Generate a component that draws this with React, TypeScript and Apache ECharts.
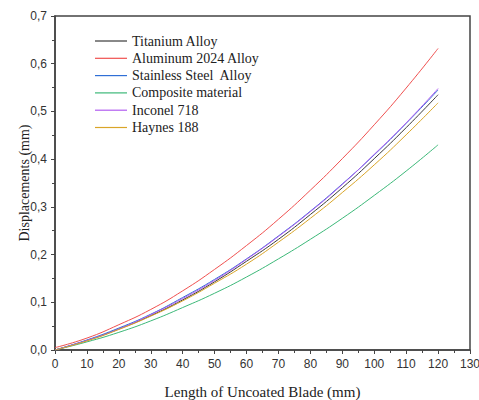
import React, { useEffect, useRef } from "react";
import * as echarts from "echarts";

const xValues = [0, 10, 20, 30, 40, 50, 60, 70, 80, 90, 100, 110, 120];

const titanium = [0, 0.020, 0.044, 0.072, 0.105, 0.143, 0.186, 0.232, 0.284, 0.340, 0.401, 0.466, 0.535];
const aluminum = [0.005, 0.025, 0.053, 0.085, 0.124, 0.169, 0.219, 0.274, 0.335, 0.401, 0.472, 0.549, 0.632];
const stainless = [0, 0.021, 0.046, 0.075, 0.110, 0.148, 0.191, 0.239, 0.291, 0.348, 0.409, 0.475, 0.545];
const composite = [0, 0.017, 0.037, 0.061, 0.089, 0.119, 0.153, 0.191, 0.232, 0.276, 0.324, 0.375, 0.430];
const inconel = [0, 0.020, 0.044, 0.074, 0.108, 0.146, 0.190, 0.238, 0.290, 0.347, 0.410, 0.476, 0.548];
const haynes = [0, 0.019, 0.043, 0.071, 0.103, 0.140, 0.180, 0.226, 0.276, 0.330, 0.388, 0.451, 0.518];

const seriesNames = [
  "Titanium Alloy",
  "Aluminum 2024 Alloy",
  "Stainless Steel  Alloy",
  "Composite material",
  "Inconel 718",
  "Haynes 188",
];
const seriesData = [titanium, aluminum, stainless, composite, inconel, haynes];
const seriesColors = ["#3a3a3a", "#f0504f", "#2f6fd6", "#3cb878", "#b15cf0", "#d9a528"];

export default function App() {
  const ref = useRef<HTMLDivElement>(null);
  useEffect(() => {
    if (!ref.current) return;
    const chart = echarts.init(ref.current, undefined, { renderer: "svg" });
    const axisColor = "#444";
    chart.setOption({
      animation: false,
      backgroundColor: "#fff",
      grid: {
        left: 55,
        right: 9,
        top: 16,
        bottom: 50,
        outerBoundsMode: "none",
        containLabel: false,
        show: true,
        borderColor: axisColor,
        borderWidth: 1.5,
        backgroundColor: "transparent",
      },
      legend: {
        orient: "vertical",
        left: 90,
        top: 29,
        icon: "rect",
        itemWidth: 32,
        itemHeight: 1.2,
        itemGap: 3.3,
        data: seriesNames,
        textStyle: { fontFamily: "Liberation Serif", fontSize: 14, color: "#222" },
      },
      xAxis: {
        type: "value",
        min: 0,
        max: 130,
        interval: 10,
        name: "Length of Uncoated Blade (mm)",
        nameLocation: "middle",
        nameGap: 34,
        nameMoveOverlap: false,
        nameTextStyle: { fontFamily: "Liberation Serif", fontSize: 15, color: "#222" },
        axisLine: { show: true, lineStyle: { color: axisColor, width: 1.5 } },
        axisTick: { show: true, inside: false, length: 4, lineStyle: { color: axisColor } },
        minorTick: { show: true, splitNumber: 2, length: 3, lineStyle: { color: axisColor } },
        axisLabel: { fontFamily: "Liberation Sans", fontSize: 12, color: "#333", margin: 8 },
        splitLine: { show: false },
      },
      yAxis: {
        type: "value",
        min: 0,
        max: 0.7,
        interval: 0.1,
        name: "Displacements (mm)",
        nameLocation: "middle",
        nameGap: 24,
        nameMoveOverlap: false,
        nameTextStyle: { fontFamily: "Liberation Serif", fontSize: 14, color: "#222" },
        axisLine: { show: true, lineStyle: { color: axisColor, width: 1.5 } },
        axisTick: { show: true, inside: false, length: 4, lineStyle: { color: axisColor } },
        minorTick: { show: true, splitNumber: 2, length: 3, lineStyle: { color: axisColor } },
        axisLabel: {
          fontFamily: "Liberation Sans",
          fontSize: 12,
          color: "#333",
          margin: 8,
          formatter: (v: number) => v.toFixed(1).replace(".", ","),
        },
        splitLine: { show: false },
      },
      series: seriesNames.map((name, i) => ({
        name,
        type: "line",
        smooth: true,
        symbol: "none",
        color: seriesColors[i],
        itemStyle: { color: seriesColors[i] },
        lineStyle: { width: 1, color: seriesColors[i] },
        data: xValues.map((x, j) => [x, seriesData[i][j]]),
      })),
    });
    return () => chart.dispose();
  }, []);
  return (
    <div
      ref={ref}
      style={{ position: "fixed", left: 0, top: 0, width: 479, height: 400 }}
    />
  );
}
